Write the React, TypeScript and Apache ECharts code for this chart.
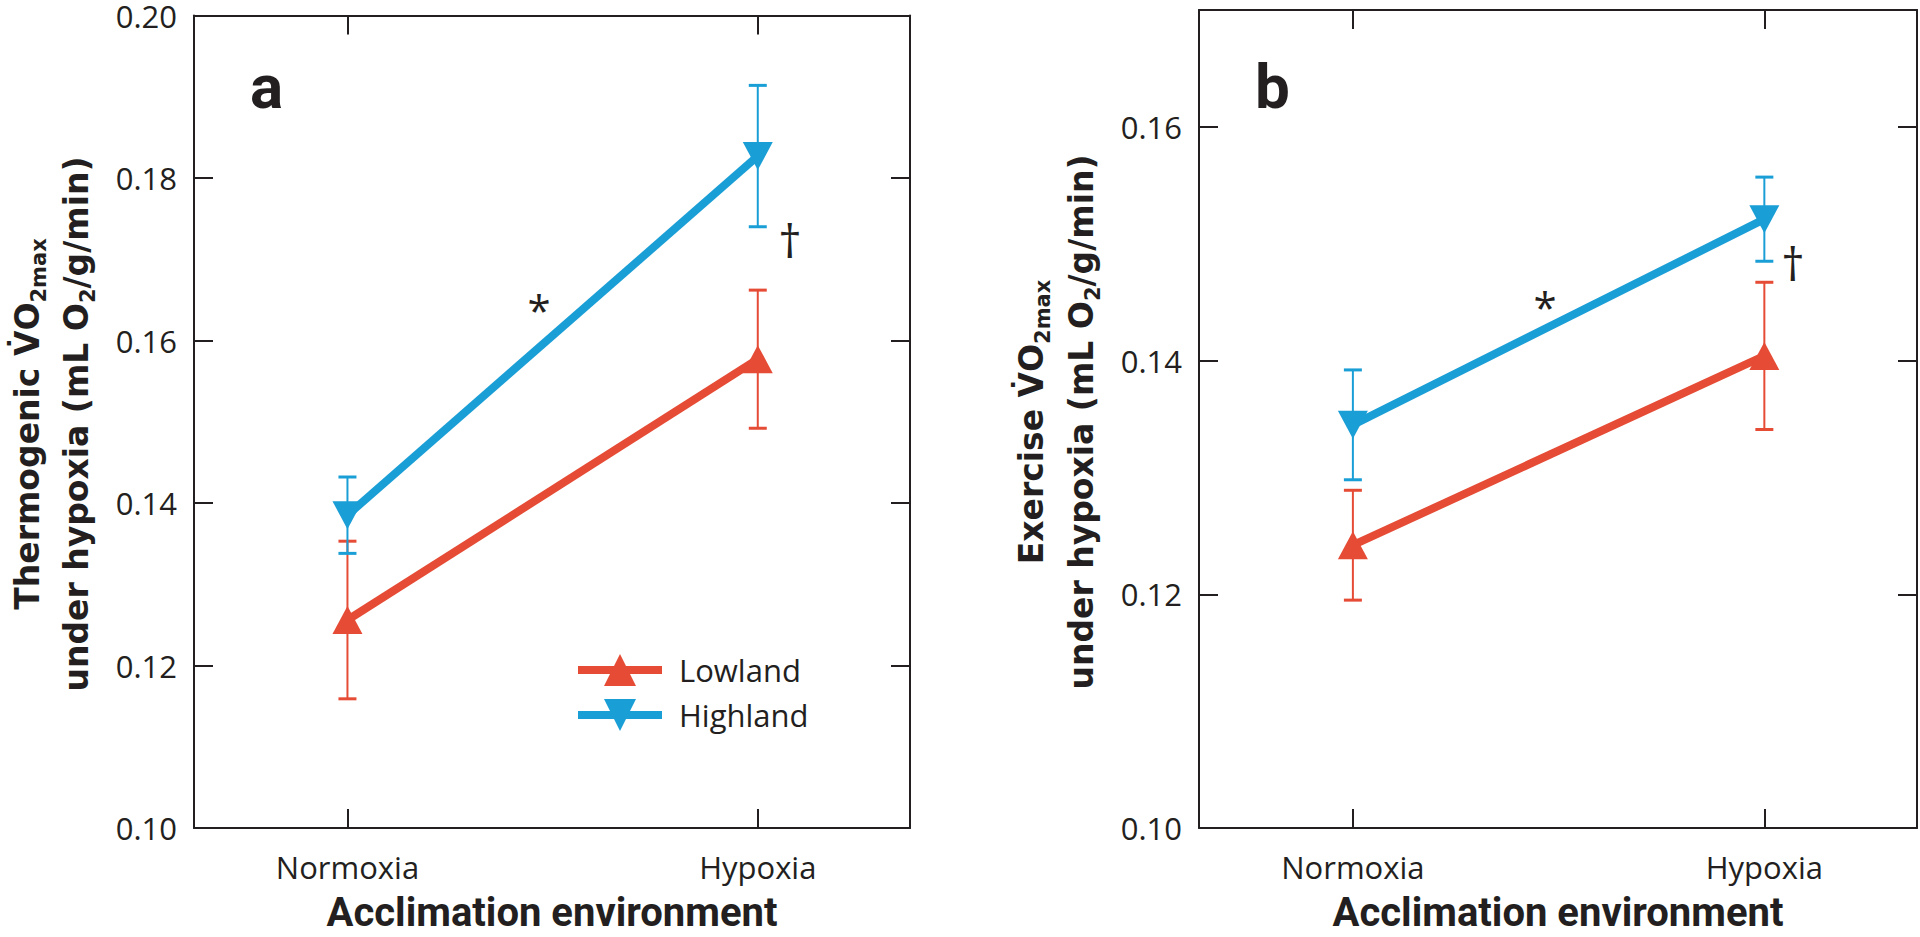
import React, { useEffect, useRef } from 'react';
import * as echarts from 'echarts';

// ---------- data ----------
const CATEGORIES = ['Normoxia', 'Hypoxia'];
const X_POS = [0, 1];
const A_Y_TICKS = [0.1, 0.12, 0.14, 0.16, 0.18, 0.2];
const B_Y_TICKS = [0.1, 0.12, 0.14, 0.16];

const A_LOWLAND_MEAN = [0.1256, 0.1577];
const A_LOWLAND_ERR = [0.0097, 0.0085];
const A_HIGHLAND_MEAN = [0.1385, 0.1827];
const A_HIGHLAND_ERR = [0.0047, 0.0087];

const B_LOWLAND_MEAN = [0.1242, 0.1404];
const B_LOWLAND_ERR = [0.0047, 0.0063];
const B_HIGHLAND_MEAN = [0.1345, 0.1521];
const B_HIGHLAND_ERR = [0.0047, 0.0036];

const SERIES_NAMES = ['Lowland', 'Highland'];

// ---------- style ----------
const INK = '#231f20';
const RED = '#E54B35';
const BLUE = '#1A9ED6';
const TICK_FONT = "'Open Sans', 'Noto Sans', sans-serif";
const TITLE_FONT = "'DejaVu Sans', Verdana, sans-serif";
const BOLD_FONT = "Roboto, 'Open Sans', sans-serif";
const X_MIN = -0.374;
const X_MAX = 1.371;

function xAxis(gridIndex: number, position: 'bottom' | 'top') {
  const bottom = position === 'bottom';
  return {
    type: 'value',
    gridIndex,
    position,
    min: X_MIN,
    max: X_MAX,
    axisLine: { show: true, onZero: false, lineStyle: { color: INK, width: 2 } },
    axisTick: { show: true, inside: true, length: 19, customValues: X_POS, lineStyle: { color: INK, width: 2 } },
    axisLabel: {
      show: bottom,
      customValues: X_POS,
      formatter: (v: number) => CATEGORIES[Math.round(v)] ?? '',
      margin: 23,
      fontFamily: TICK_FONT,
      fontSize: 31,
      color: INK,
    },
    splitLine: { show: false },
    name: bottom ? 'Acclimation environment' : '',
    nameLocation: 'middle',
    nameGap: 64,
    nameTextStyle: { fontFamily: BOLD_FONT, fontWeight: 'bold', fontSize: 40, color: INK },
  };
}

function yAxis(gridIndex: number, position: 'left' | 'right', max: number, ticks: number[]) {
  return {
    type: 'value',
    gridIndex,
    position,
    min: 0.1,
    max,
    interval: 0.02,
    axisLine: { show: true, onZero: false, lineStyle: { color: INK, width: 2 } },
    axisTick: { show: true, inside: true, length: 19, customValues: ticks, lineStyle: { color: INK, width: 2 } },
    axisLabel: {
      show: position === 'left',
      customValues: ticks,
      formatter: (v: number) => v.toFixed(2),
      margin: 17,
      fontFamily: TICK_FONT,
      fontSize: 31,
      lineHeight: 24,
      color: INK,
    },
    splitLine: { show: false },
  };
}

function lineSeries(name: string, panel: number, means: number[], color: string, rotate: number) {
  return {
    type: 'line',
    name,
    xAxisIndex: panel * 2,
    yAxisIndex: panel * 2,
    data: X_POS.map((x, i) => [x, means[i]]),
    symbol: 'triangle',
    symbolSize: [30, 28],
    symbolRotate: rotate,
    itemStyle: { color },
    lineStyle: { color, width: 8 },
    z: 3,
  };
}

function errSeries(name: string, panel: number, means: number[], errs: number[], color: string) {
  return {
    type: 'custom',
    name,
    xAxisIndex: panel * 2,
    yAxisIndex: panel * 2,
    data: X_POS.map((x, i) => [x, means[i] - errs[i], means[i] + errs[i]]),
    encode: { x: 0, y: [1, 2] },
    silent: true,
    z: 2,
    renderItem: (params: any, api: any) => {
      const x = api.value(0);
      const lo = api.coord([x, api.value(1)]);
      const hi = api.coord([x, api.value(2)]);
      const hw = 9;
      const st = { stroke: color, lineWidth: 2 };
      return {
        type: 'group',
        children: [
          { type: 'line', shape: { x1: hi[0], y1: hi[1], x2: lo[0], y2: lo[1] }, style: st },
          { type: 'line', shape: { x1: hi[0] - hw, y1: hi[1], x2: hi[0] + hw, y2: hi[1] }, style: { stroke: color, lineWidth: 3 } },
          { type: 'line', shape: { x1: lo[0] - hw, y1: lo[1], x2: lo[0] + hw, y2: lo[1] }, style: { stroke: color, lineWidth: 3 } },
        ],
      };
    },
  };
}

function yTitle(x: number, y: number, text: string) {
  return {
    type: 'text',
    x,
    y,
    rotation: Math.PI / 2,
    silent: true,
    style: {
      text,
      textAlign: 'center',
      textVerticalAlign: 'middle',
      align: 'center',
      verticalAlign: 'middle',
      rich: {
        b: { fontFamily: TITLE_FONT, fontWeight: 'bold', fontSize: 33, lineHeight: 44, fill: INK },
        s: { fontFamily: TITLE_FONT, fontWeight: 'bold', fontSize: 21, lineHeight: 21, verticalAlign: 'bottom', fill: INK },
      },
    },
  };
}

function note(x: number, y: number, text: string, size: number, family: string, weight: string) {
  return {
    type: 'text',
    x,
    y,
    silent: true,
    style: {
      text,
      fontFamily: family,
      fontWeight: weight,
      fontSize: size,
      fill: INK,
      textAlign: 'center',
      textVerticalAlign: 'middle',
      align: 'center',
      verticalAlign: 'middle',
    },
  };
}

export default function App() {
  const ref = useRef<HTMLDivElement>(null);

  useEffect(() => {
    if (!ref.current) return;
    const chart = echarts.init(ref.current, undefined, { renderer: 'svg' });
    const option: any = {
      animation: false,
      backgroundColor: '#ffffff',
      grid: [
        { left: 194, top: 13, width: 716, height: 821 },
        { left: 1199, top: 10, width: 718, height: 824 },
      ],
      xAxis: [xAxis(0, 'bottom'), xAxis(0, 'top'), xAxis(1, 'bottom'), xAxis(1, 'top')],
      yAxis: [
        yAxis(0, 'left', 0.2, A_Y_TICKS),
        yAxis(0, 'right', 0.2, A_Y_TICKS),
        yAxis(1, 'left', 0.17, B_Y_TICKS),
        yAxis(1, 'right', 0.17, B_Y_TICKS),
      ],
      legend: {
        data: SERIES_NAMES,
        orient: 'vertical',
        left: 574,
        top: 654,
        padding: 0,
        itemWidth: 84,
        itemHeight: 40,
        itemGap: 13,
        lineStyle: { width: 8 },
        textStyle: { fontFamily: TICK_FONT, fontSize: 31, color: INK, padding: [0, 0, 0, 12] },
      },
      series: [
        errSeries('Lowland SE a', 0, A_LOWLAND_MEAN, A_LOWLAND_ERR, RED),
        errSeries('Highland SE a', 0, A_HIGHLAND_MEAN, A_HIGHLAND_ERR, BLUE),
        lineSeries(SERIES_NAMES[0], 0, A_LOWLAND_MEAN, RED, 0),
        lineSeries(SERIES_NAMES[1], 0, A_HIGHLAND_MEAN, BLUE, 180),
        errSeries('Lowland SE b', 1, B_LOWLAND_MEAN, B_LOWLAND_ERR, RED),
        errSeries('Highland SE b', 1, B_HIGHLAND_MEAN, B_HIGHLAND_ERR, BLUE),
        lineSeries(SERIES_NAMES[0], 1, B_LOWLAND_MEAN, RED, 0),
        lineSeries(SERIES_NAMES[1], 1, B_HIGHLAND_MEAN, BLUE, 180),
      ],
      graphic: [
        yTitle(27, 424, '{b|Thermogenic V\u0307O}{s|2max}'),
        yTitle(76, 424, '{b|under hypoxia (mL O}{s|2}{b|/g/min)}'),
        yTitle(1031, 422, '{b|Exercise V\u0307O}{s|2max}'),
        yTitle(1081, 422, '{b|under hypoxia (mL O}{s|2}{b|/g/min)}'),
        { type: 'text', x: 250, y: 86, silent: true, style: { text: 'a', fontFamily: BOLD_FONT, fontWeight: 'bold', fontSize: 62, fill: INK, textAlign: 'left', align: 'left', textVerticalAlign: 'middle', verticalAlign: 'middle' } },
        { type: 'text', x: 1255, y: 86, silent: true, style: { text: 'b', fontFamily: BOLD_FONT, fontWeight: 'bold', fontSize: 62, fill: INK, textAlign: 'left', align: 'left', textVerticalAlign: 'middle', verticalAlign: 'middle' } },
        note(539, 309, '*', 42, TICK_FONT, 'normal'),
        note(790, 240, '\u2020', 46, TICK_FONT, 'normal'),
        note(1545, 306, '*', 42, TICK_FONT, 'normal'),
        note(1793, 263, '\u2020', 46, TICK_FONT, 'normal'),
      ],
    };
    chart.setOption(option);
    return () => chart.dispose();
  }, []);

  return (
    <div
      ref={ref}
      style={{ position: 'fixed', left: 0, top: 0, width: 1920, height: 937, background: '#fff' }}
    />
  );
}
